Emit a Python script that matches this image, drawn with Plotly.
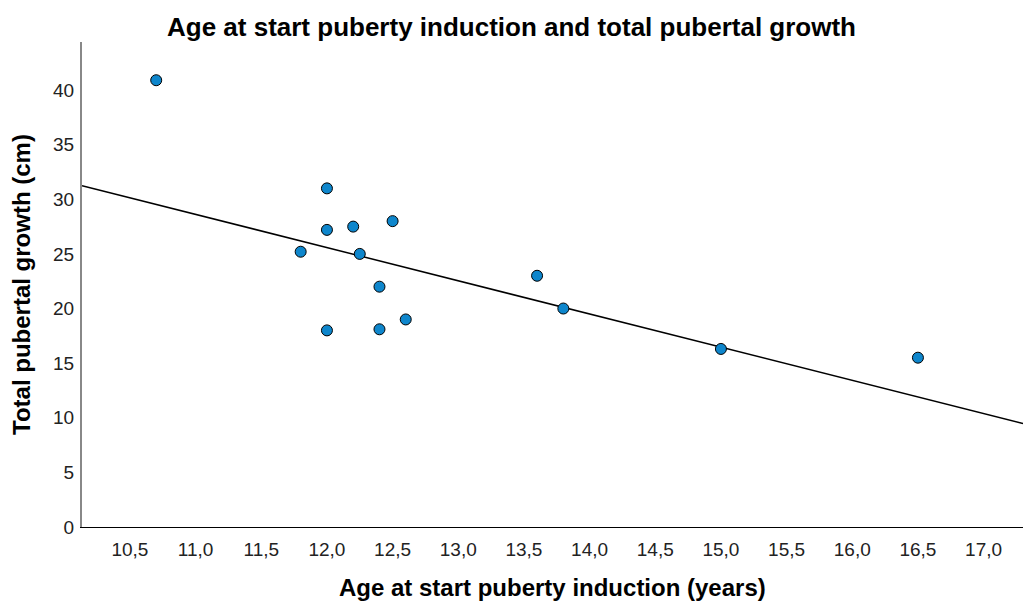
import plotly.graph_objects as go

# Data
age = [10.7, 12.0, 12.0, 12.0, 12.2, 12.5, 11.8, 12.25, 12.4, 12.4, 12.6, 13.6, 13.8, 15.0, 16.5]
growth = [40.9, 31.0, 27.2, 18.0, 27.5, 28.0, 25.2, 25.0, 22.0, 18.1, 19.0, 23.0, 20.0, 16.3, 15.5]

# Fit line: growth = intercept + slope * age
fit_intercept = 62.06
fit_slope = -3.04
x_range = [10.135, 17.3]
y_range = [0, 44.4]
y_ticks = [0, 5, 10, 15, 20, 25, 30, 35, 40]
x_ticks = [10.5, 11.0, 11.5, 12.0, 12.5, 13.0, 13.5, 14.0, 14.5, 15.0, 15.5, 16.0, 16.5, 17.0]

fit_x = x_range
fit_y = [fit_intercept + fit_slope * v for v in fit_x]

FONT = "Arial, Liberation Sans, sans-serif"

fig = go.Figure()
fig.add_trace(go.Scatter(x=fit_x, y=fit_y, mode="lines",
                         line=dict(color="black", width=1.5),
                         showlegend=False, hoverinfo="skip"))
fig.add_trace(go.Scatter(x=age, y=growth, mode="markers",
                         marker=dict(size=11, color="#0E86CC",
                                     line=dict(color="black", width=1)),
                         showlegend=False))

fig.update_layout(
    width=1023, height=601,
    margin=dict(l=82, r=0, t=42, b=74),
    paper_bgcolor="white", plot_bgcolor="white",
    separators=", ",
    font=dict(family=FONT, color="#222222", size=19),
    title=dict(text="<b>Age at start puberty induction and total pubertal growth</b>",
               x=0.5, xanchor="center", y=0.955, yanchor="middle",
               font=dict(family=FONT, size=26, color="black")),
    xaxis=dict(range=x_range, tickvals=x_ticks, tickformat=".1f",
               showgrid=False, zeroline=False, showline=True, automargin=False,
               linecolor="black", linewidth=1.2, ticks="",
               ticklabelstandoff=5),
    yaxis=dict(range=y_range, tickvals=y_ticks,
               showgrid=False, zeroline=False, showline=True, automargin=False,
               linecolor="#888888", linewidth=2, ticks="",
               ticklabelstandoff=2,
               title=dict(text="<b>Total pubertal growth (cm)</b>",
                          standoff=16, font=dict(family=FONT, size=24, color="black"))),
    annotations=[dict(text="<b>Age at start puberty induction (years)</b>",
                      xref="paper", yref="paper", x=0.5, y=-0.124,
                      xanchor="center", yanchor="middle", showarrow=False,
                      font=dict(family=FONT, size=24, color="black"))],
)

fig.write_html("out.html", config={"displayModeBar": False},
               post_script="document.body.style.margin='0';")
